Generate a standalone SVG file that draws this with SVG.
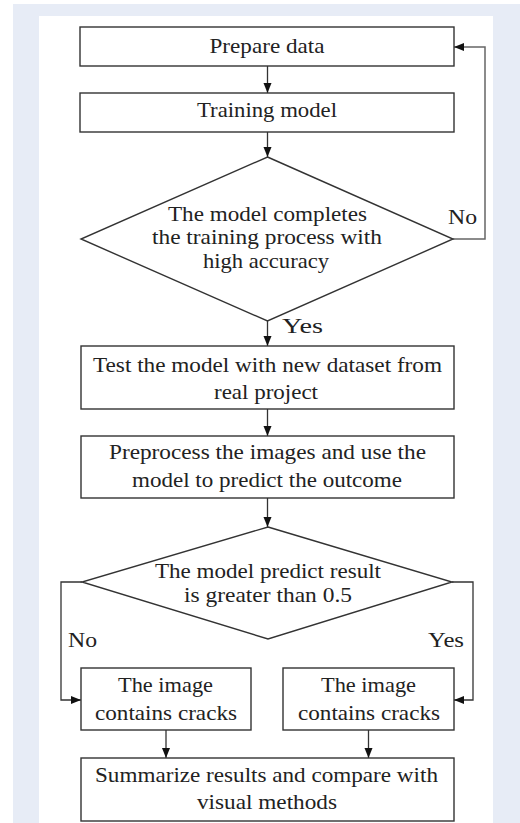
<svg xmlns="http://www.w3.org/2000/svg" width="520" height="823" viewBox="0 0 520 823">
<defs>
<marker id="arr" markerWidth="10" markerHeight="10" refX="10" refY="5" orient="auto" markerUnits="userSpaceOnUse">
<path d="M0,1 L10,5 L0,9 Z" fill="#111"/>
</marker>
<style>
.box{fill:#fff;stroke:#333;stroke-width:1.4}
.t{font-family:"Liberation Serif","Times New Roman",serif;font-size:21px;fill:#222;text-anchor:middle}
.l{font-family:"Liberation Serif","Times New Roman",serif;font-size:21px;fill:#222}
.c{fill:none;stroke:#333;stroke-width:1.3}
.g{fill:none;stroke:#666;stroke-width:1.5}
</style>
</defs>
<rect x="0" y="0" width="520" height="823" fill="#fff"/>
<rect x="13" y="4" width="507" height="819" fill="#e7ecf6"/>
<rect x="39" y="16" width="454" height="807" fill="#fff"/>

<g id="connectors">
<path class="c" d="M267.5,66 V93" marker-end="url(#arr)"/>
<path class="c" d="M267.5,132 V157" marker-end="url(#arr)"/>
<path class="g" d="M453,239 H485 V47 H454" marker-end="url(#arr)"/>
<path class="c" d="M267.5,321 V346" marker-end="url(#arr)"/>
<path class="c" d="M267.5,409 V436" marker-end="url(#arr)"/>
<path class="c" d="M267.5,498 V527" marker-end="url(#arr)"/>
<path class="c" d="M82,582 H61 V700 H81" marker-end="url(#arr)"/>
<path class="c" d="M452,582 H473 V700 H454" marker-end="url(#arr)"/>
<path class="c" d="M166,730 V758" marker-end="url(#arr)"/>
<path class="c" d="M368.5,730 V758" marker-end="url(#arr)"/>
</g>

<g id="prepare">
<rect class="box" x="80" y="27" width="374" height="39"/>
<text class="t" x="267" y="53" textLength="115" lengthAdjust="spacingAndGlyphs">Prepare data</text>
</g>
<g id="training">
<rect class="box" x="80" y="93" width="374" height="39"/>
<text class="t" x="267" y="117" textLength="140" lengthAdjust="spacingAndGlyphs">Training model</text>
</g>
<g id="decision1">
<path class="box" d="M267.5,157 L453,239 L267.5,321 L81,239 Z"/>
<text class="t" x="267.5" y="221" textLength="199" lengthAdjust="spacingAndGlyphs">The model completes</text>
<text class="t" x="267" y="244" textLength="230" lengthAdjust="spacingAndGlyphs">the training process with</text>
<text class="t" x="266" y="268" textLength="126" lengthAdjust="spacingAndGlyphs">high accuracy</text>
</g>
<g id="label-no1"><text class="l" x="448" y="224" textLength="29" lengthAdjust="spacingAndGlyphs">No</text></g>
<g id="label-yes1"><text class="l" x="282" y="333" textLength="41" lengthAdjust="spacingAndGlyphs">Yes</text></g>
<g id="test">
<rect class="box" x="81" y="346" width="373" height="63"/>
<text class="t" x="267.5" y="372" textLength="349" lengthAdjust="spacingAndGlyphs">Test the model with new dataset from</text>
<text class="t" x="266" y="399" textLength="104" lengthAdjust="spacingAndGlyphs">real project</text>
</g>
<g id="preprocess">
<rect class="box" x="81" y="436" width="373" height="62"/>
<text class="t" x="267.5" y="459" textLength="317" lengthAdjust="spacingAndGlyphs">Preprocess the images and use the</text>
<text class="t" x="267" y="487" textLength="270" lengthAdjust="spacingAndGlyphs">model to predict the outcome</text>
</g>
<g id="decision2">
<path class="box" d="M268,527 L452,582 L268,639 L82,582 Z"/>
<text class="t" x="268" y="578" textLength="226" lengthAdjust="spacingAndGlyphs">The model predict result</text>
<text class="t" x="268" y="602" textLength="168" lengthAdjust="spacingAndGlyphs">is greater than 0.5</text>
</g>
<g id="label-no2"><text class="l" x="68" y="647" textLength="29" lengthAdjust="spacingAndGlyphs">No</text></g>
<g id="label-yes2"><text class="l" x="428" y="647" textLength="36" lengthAdjust="spacingAndGlyphs">Yes</text></g>
<g id="crack-left">
<rect class="box" x="81" y="668" width="170" height="62"/>
<text class="t" x="165.5" y="692" textLength="95" lengthAdjust="spacingAndGlyphs">The image</text>
<text class="t" x="166" y="720" textLength="142" lengthAdjust="spacingAndGlyphs">contains cracks</text>
</g>
<g id="crack-right">
<rect class="box" x="283" y="668" width="171" height="62"/>
<text class="t" x="368.5" y="692" textLength="95" lengthAdjust="spacingAndGlyphs">The image</text>
<text class="t" x="369" y="720" textLength="142" lengthAdjust="spacingAndGlyphs">contains cracks</text>
</g>
<g id="summarize">
<rect class="box" x="81" y="758" width="373" height="63"/>
<text class="t" x="266.5" y="782" textLength="343" lengthAdjust="spacingAndGlyphs">Summarize results and compare with</text>
<text class="t" x="267" y="809" textLength="140" lengthAdjust="spacingAndGlyphs">visual methods</text>
</g>
</svg>
